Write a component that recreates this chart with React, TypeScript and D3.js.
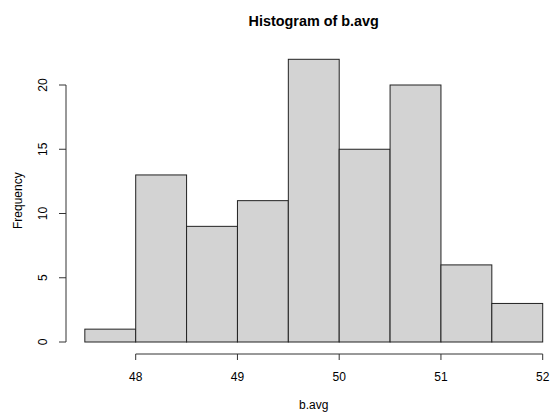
import React from "react";
import * as d3 from "d3";

const width = 550,
  height = 412;

// bin edges and counts
const breaks = [47.5, 48, 48.5, 49, 49.5, 50, 50.5, 51, 51.5, 52];
const counts = [1, 13, 9, 11, 22, 15, 20, 6, 3];
const xTicks = [48, 49, 50, 51, 52];
const yTicks = [0, 5, 10, 15, 20];

const font = "'Liberation Sans', Arial, sans-serif";

const x = d3.scaleLinear().domain([48, 52]).range([135.7, 542.7]);
const y = d3.scaleLinear().domain([0, 20]).range([342, 85]);

export default function App() {
  const bins = counts.map((c, i) => ({ x0: breaks[i], x1: breaks[i + 1], c }));
  const axisY = 354;
  const axisX = 66;
  // plot region centre (R pads the data range by 4%)
  const cx = x(49.75);
  const cy = (y(-0.88) + y(22.88)) / 2;

  return (
    <svg
      width={width}
      height={height}
      style={{ position: "absolute", left: 0, top: 0, background: "#fff" }}
      fontFamily={font}
    >
      <text x={cx} y={26} textAnchor="middle" fontWeight="bold" fontSize={14.4}>
        Histogram of b.avg
      </text>

      {bins.map((b, i) => (
        <rect
          key={i}
          x={x(b.x0)}
          y={y(b.c)}
          width={x(b.x1) - x(b.x0)}
          height={y(0) - y(b.c)}
          fill="#d3d3d3"
          stroke="#222"
          strokeWidth={1}
        />
      ))}

      {/* x axis */}
      <g stroke="#333" strokeWidth={1} fill="none">
        <line x1={x(48)} x2={x(52)} y1={axisY} y2={axisY} />
        {xTicks.map((t) => (
          <line key={t} x1={x(t)} x2={x(t)} y1={axisY} y2={axisY + 6} />
        ))}
      </g>
      {xTicks.map((t) => (
        <text key={t} x={x(t)} y={381} textAnchor="middle" fontSize={12}>
          {t}
        </text>
      ))}
      <text x={cx} y={409} textAnchor="middle" fontSize={12}>
        b.avg
      </text>

      {/* y axis */}
      <g stroke="#333" strokeWidth={1} fill="none">
        <line x1={axisX} x2={axisX} y1={y(0)} y2={y(20)} />
        {yTicks.map((t) => (
          <line key={t} x1={axisX - 7} x2={axisX} y1={y(t)} y2={y(t)} />
        ))}
      </g>
      {yTicks.map((t) => (
        <text
          key={t}
          transform={`translate(47,${y(t)}) rotate(-90)`}
          textAnchor="middle"
          fontSize={12}
        >
          {t}
        </text>
      ))}
      <text
        transform={`translate(22,${cy}) rotate(-90)`}
        textAnchor="middle"
        fontSize={12}
      >
        Frequency
      </text>
    </svg>
  );
}
